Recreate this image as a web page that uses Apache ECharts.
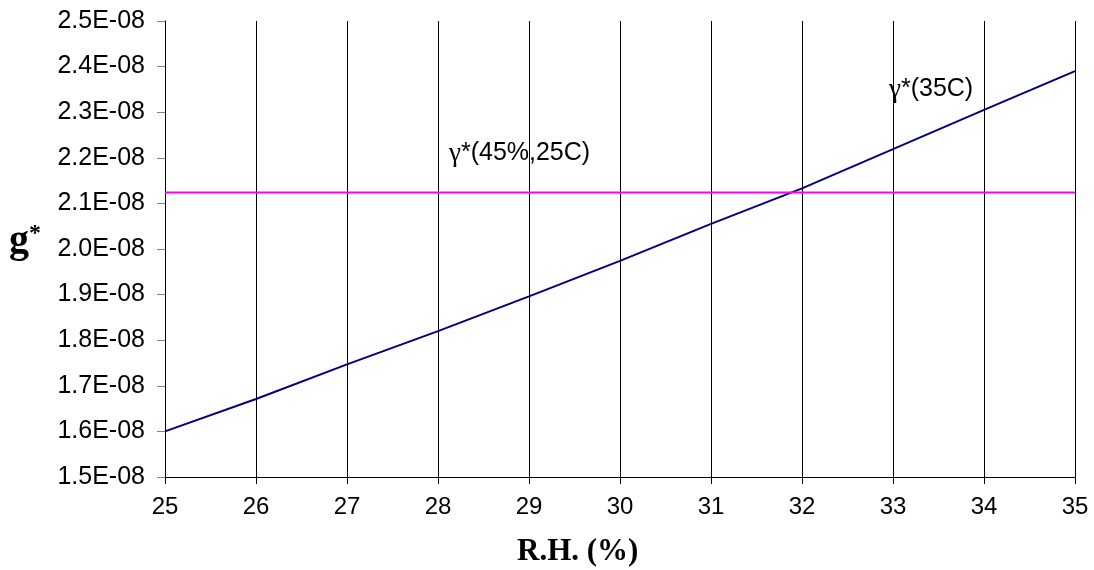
<!DOCTYPE html>
<html>
<head>
<meta charset="utf-8">
<script src="https://cdn.jsdelivr.net/npm/echarts@6/dist/echarts.min.js"></script>
<style>html,body{margin:0;padding:0;background:#fff}#c{width:1094px;height:570px}</style>
</head>
<body>
<div id="c"></div>
<script>
// Values in units of 1E-08
const rh = [25, 26, 27, 28, 29, 30, 31, 32, 33, 34, 35];
const gamma35C = [1.600, 1.671, 1.747, 1.820, 1.896, 1.974, 2.055, 2.133, 2.219, 2.305, 2.390];
const gamma45_25C = [2.124, 2.124];
const gamma45_25C_x = [25, 35];
const yMin = 1.5, yMax = 2.5, yStep = 0.1;
const xMin = 25, xMax = 35, xStep = 1;

const annoRich = {
  g: { fontSize: 27, fontFamily: 'Liberation Serif, Times New Roman', fill: '#000' },
  t: { fontSize: 25, fontFamily: 'Liberation Sans, Arial', fill: '#000' }
};

const chart = echarts.init(document.getElementById('c'));
chart.setOption({
  animation: false,
  backgroundColor: '#fff',
  grid: { left: 165, right: 19, top: 21, bottom: 93, containLabel: false },
  xAxis: {
    type: 'value', min: xMin, max: xMax, interval: xStep,
    axisLine: { lineStyle: { color: '#000', width: 1 } },
    axisTick: { show: true, length: 7, lineStyle: { color: '#000' } },
    axisLabel: { color: '#000', fontSize: 24, fontFamily: 'Liberation Sans, Arial', margin: 18 },
    splitLine: { show: true, lineStyle: { color: '#000', width: 1 } }
  },
  yAxis: {
    type: 'value', min: yMin, max: yMax, interval: yStep,
    axisLine: { show: true, lineStyle: { color: '#000', width: 1 } },
    axisTick: { show: true, length: 8, lineStyle: { color: '#808080' } },
    axisLabel: { color: '#000', fontSize: 25, fontFamily: 'Liberation Sans, Arial', margin: 20,
      formatter: v => v.toFixed(1) + 'E-08' },
    splitLine: { show: false }
  },
  series: [
    {
      type: 'line', data: rh.map((x, i) => [x, gamma35C[i]]),
      showSymbol: false, symbol: 'none',
      lineStyle: { color: '#000080', width: 2 }
    },
    {
      type: 'line', data: gamma45_25C_x.map((x, i) => [x, gamma45_25C[i]]),
      showSymbol: false, symbol: 'none',
      lineStyle: { color: '#FF00FF', width: 2 }
    }
  ],
  graphic: [
    { type: 'text', left: 449, top: 140, style: { text: '{g|γ}{t|*(45%,25C)}', rich: annoRich } },
    { type: 'text', left: 889, top: 76, style: { text: '{g|γ}{t|*(35C)}', rich: annoRich } },
    { type: 'text', left: 9, top: 222, style: {
        text: '{g|g}{s|*}', fill: '#000',
        rich: {
          g: { fontSize: 40, fontWeight: 'bold', fontFamily: 'Liberation Serif, Times New Roman', fill: '#000' },
          s: { fontSize: 24, fontWeight: 'bold', fontFamily: 'Liberation Serif, Times New Roman', fill: '#000', verticalAlign: 'top', padding: [0, 0, 16, 0] }
        } } },
    { type: 'text', left: 517, top: 536, style: { text: 'R.H. (%)', fontSize: 31, fontWeight: 'bold', fontFamily: 'Liberation Serif, Times New Roman', fill: '#000' } }
  ]
});
</script>
</body>
</html>
